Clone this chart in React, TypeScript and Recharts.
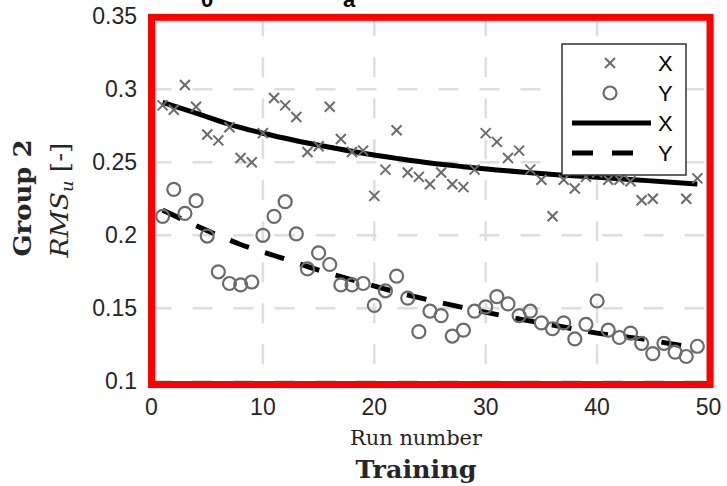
import React from "react"
import {
  ComposedChart,
  Scatter,
  Line,
  XAxis,
  YAxis,
  CartesianGrid,
} from "recharts"

// measured RMS values, runs 1..49
const crossVals = [
  0.289, 0.286, 0.303, 0.288, 0.269, 0.265, 0.274, 0.253, 0.25, 0.27,
  0.294, 0.289, 0.281, 0.257, 0.261, 0.288, 0.266, 0.257, 0.258, 0.227,
  0.245, 0.272, 0.243, 0.24, 0.235, 0.243, 0.235, 0.233, 0.245, 0.27,
  0.264, 0.253, 0.258, 0.245, 0.238, 0.213, 0.238, 0.232, 0.24, 0.243,
  0.238, 0.238, 0.237, 0.224, 0.225, 0.25, 0.246, 0.225, 0.239,
]
const circleVals = [
  0.213, 0.2315, 0.215, 0.2237, 0.1995, 0.175, 0.167, 0.166, 0.168, 0.2,
  0.213, 0.223, 0.201, 0.177, 0.188, 0.18, 0.166, 0.166, 0.167, 0.152,
  0.162, 0.172, 0.157, 0.134, 0.148, 0.145, 0.131, 0.135, 0.148, 0.151,
  0.158, 0.153, 0.145, 0.148, 0.14, 0.136, 0.14, 0.129, 0.139, 0.155,
  0.135, 0.13, 0.133, 0.126, 0.119, 0.126, 0.12, 0.117, 0.124,
]

const fitXRuns = [1, 4, 7, 10, 13, 16, 19, 22, 25, 28, 31, 34, 37, 40, 43, 46, 49]
const fitXVals = [
  0.291, 0.2836, 0.276, 0.2699, 0.2648, 0.2603, 0.2562, 0.2527, 0.2495,
  0.247, 0.2448, 0.2428, 0.2412, 0.2398, 0.2383, 0.2366, 0.2351,
]
const fitYRuns = [1, 5, 8, 12, 15, 19, 22, 26, 29, 33, 36, 40, 44, 47, 49]
const fitYVals = [
  0.2173, 0.2032, 0.1937, 0.1837, 0.1762, 0.1674, 0.1611, 0.1538, 0.1489,
  0.1427, 0.1386, 0.133, 0.1291, 0.1252, 0.1228,
]

const xTicks = [0, 10, 20, 30, 40, 50]
const yTicks = [0.1, 0.15, 0.2, 0.25, 0.3, 0.35]

const ptsX = crossVals.map((v, i) => ({ run: i + 1, v }))
const ptsY = circleVals.map((v, i) => ({ run: i + 1, v }))
const fitX = fitXRuns.map((run, i) => ({ run, v: fitXVals[i] }))
const fitY = fitYRuns.map((run, i) => ({ run, v: fitYVals[i] }))

const markerColor = "#6b6b6b"
const sans = "'Liberation Sans', Arial, Helvetica, sans-serif"
const serif = "'DejaVu Serif', serif"

function Cross(props: any) {
  const { cx, cy } = props
  const s = 5
  return (
    <g stroke={markerColor} strokeWidth={2}>
      <line x1={cx - s} y1={cy - s} x2={cx + s} y2={cy + s} />
      <line x1={cx - s} y1={cy + s} x2={cx + s} y2={cy - s} />
    </g>
  )
}

function Ring(props: any) {
  const { cx, cy } = props
  return <circle cx={cx} cy={cy} r={6.5} fill="none" stroke={markerColor} strokeWidth={2.2} />
}

function Overlay() {
  return (
    <svg
      width={727}
      height={486}
      style={{ position: "absolute", left: 0, top: 0, pointerEvents: "none" }}
    >
      {/* title fragments, cut by the top edge as in the source */}
      <text x={207} y={7} fontFamily={sans} fontWeight="bold" fontSize={22} textAnchor="middle" fill="#000">0</text>
      <text x={349} y={7} fontFamily={sans} fontWeight="bold" fontSize={22} textAnchor="middle" fill="#000">a</text>

      {/* legend */}
      <rect x={562} y={44} width={124} height={131} fill="#fff" stroke="#333" strokeWidth={1.5} />
      <Cross cx={610} cy={63} />
      <Ring cx={610} cy={93} />
      <line x1={572} y1={123} x2={651} y2={123} stroke="#000" strokeWidth={5} />
      <line x1={572} y1={153} x2={651} y2={153} stroke="#000" strokeWidth={5} strokeDasharray="21 19" />
      {["X", "Y", "X", "Y"].map((t, i) => (
        <text key={i} x={658} y={71 + i * 30} fontFamily={sans} fontSize={22} fill="#000">
          {t}
        </text>
      ))}

      {/* red frame */}
      <rect x={151.5} y={17.3} width={558.5} height={367.2} fill="none" stroke="#ff0000" strokeWidth={7} />

      {/* axis labels */}
      <text x={416} y={445} textAnchor="middle" fontFamily={serif} fontSize={21} fill="#262626"
        textLength={132} lengthAdjust="spacingAndGlyphs">Run number</text>
      <text x={416} y={478} textAnchor="middle" fontFamily={serif} fontWeight="bold" fontSize={24} fill="#262626"
        textLength={121} lengthAdjust="spacingAndGlyphs">Training</text>
      <text transform="translate(31,198) rotate(-90)" textAnchor="middle" fontFamily={serif} fontWeight="bold"
        fontSize={24} fill="#262626" textLength={117} lengthAdjust="spacingAndGlyphs">Group 2</text>
      <text transform="translate(68,200) rotate(-90)" textAnchor="middle" fontFamily={serif} fontSize={24}
        fill="#262626" textLength={115} lengthAdjust="spacingAndGlyphs">
        <tspan fontStyle="italic">RMS</tspan>
        <tspan fontStyle="italic" fontSize={16} dy={5}>u</tspan>
        <tspan dy={-5}> [-]</tspan>
      </text>
    </svg>
  )
}

export default function App() {
  return (
    <div style={{ position: "fixed", left: 0, top: 0, width: 727, height: 486, background: "#fff" }}>
      <ComposedChart
        width={727}
        height={486}
        margin={{ top: 16.3, right: 18.5, bottom: 74.7, left: 91.5 }}
      >
        <CartesianGrid stroke="#dedede" strokeWidth={2.5} strokeDasharray="20 21" />
        <XAxis
          type="number"
          dataKey="run"
          domain={[0, 50]}
          ticks={xTicks}
          axisLine={false}
          tickLine={false}
          tickMargin={11}
          height={30}
          allowDataOverflow
          tick={{ fontSize: 23, fill: "#262626", fontFamily: sans }}
        />
        <YAxis
          type="number"
          dataKey="v"
          domain={[0.1, 0.35]}
          ticks={yTicks}
          axisLine={false}
          tickLine={false}
          tickMargin={8.5}
          width={60}
          allowDataOverflow
          tick={{ fontSize: 23, fill: "#262626", fontFamily: sans }}
        />
        <Scatter data={ptsX} shape={Cross} isAnimationActive={false} />
        <Scatter data={ptsY} shape={Ring} isAnimationActive={false} />
        <Line data={fitX} dataKey="v" type="monotone" stroke="#000" strokeWidth={5} dot={false}
          activeDot={false} isAnimationActive={false} />
        <Line data={fitY} dataKey="v" type="monotone" stroke="#000" strokeWidth={5} strokeDasharray="20 17"
          dot={false} activeDot={false} isAnimationActive={false} />
      </ComposedChart>
      <Overlay />
    </div>
  )
}
